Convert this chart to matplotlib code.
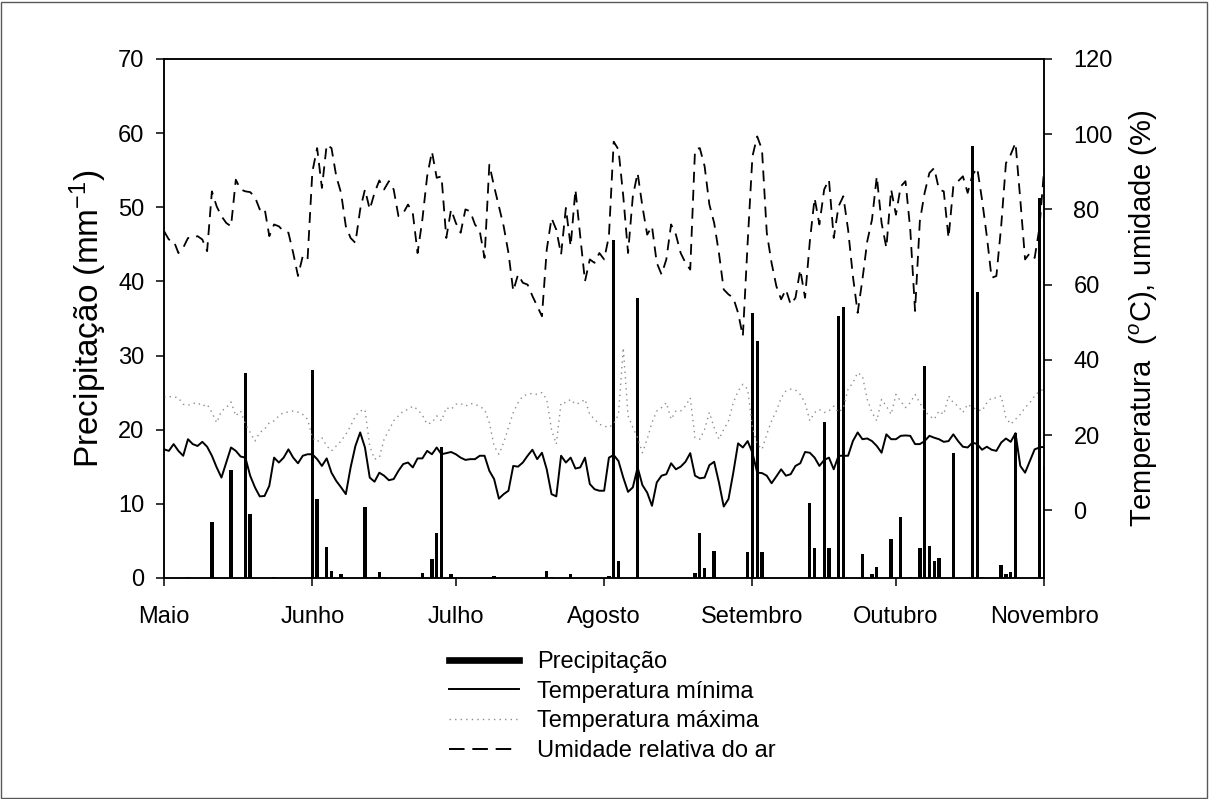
import matplotlib
matplotlib.use("Agg")
import matplotlib.pyplot as plt
from matplotlib.lines import Line2D
from matplotlib.patches import Rectangle

plt.rcParams['font.family'] = ['Liberation Sans', 'DejaVu Sans']
plt.rcParams['mathtext.fontset'] = 'custom'
plt.rcParams['mathtext.rm'] = 'Liberation Sans'
plt.rcParams['mathtext.it'] = 'Liberation Sans:italic'

# days counted from 1 May (0) to 1 Nov (184)
month_days = [0, 31, 61, 92, 123, 153, 184]
month_names = ['Maio', 'Junho', 'Julho', 'Agosto', 'Setembro', 'Outubro', 'Novembro']

humidity = [74.2, 72.0, 71.7, 68.4, 69.8, 72.4, 72.4, 72.9, 72.0, 68.9,
            84.8, 80.8, 78.2, 76.4, 75.5, 87.9, 85.3, 84.8, 84.6, 83.3,
            80.0, 80.4, 72.9, 76.0, 75.5, 74.2, 73.8, 68.4, 62.3, 67.6,
            66.7, 90.0, 96.3, 85.7, 97.2, 96.3, 88.8, 84.4, 75.5, 72.4,
            71.1, 80.0, 85.3, 80.0, 84.4, 87.7, 85.3, 87.5, 85.3, 78.2,
            79.0, 81.3, 79.0, 68.4, 77.3, 88.8, 95.4, 88.4, 88.8, 72.4,
            80.0, 76.4, 73.8, 80.0, 79.5, 76.0, 74.2, 67.1, 91.9, 86.1,
            80.8, 75.5, 68.4, 58.3, 62.7, 60.5, 60.0, 57.0, 54.3, 51.6,
            69.3, 77.7, 74.6, 68.0, 80.4, 70.2, 85.3, 72.9, 60.9, 66.7,
            65.8, 68.4, 66.7, 72.9, 98.0, 95.9, 83.5, 68.4, 83.5, 89.7,
            80.8, 73.3, 75.5, 65.8, 62.7, 66.7, 76.0, 73.3, 68.4, 65.8,
            64.0, 95.9, 96.3, 91.5, 81.3, 76.4, 68.4, 58.7, 57.4, 56.5,
            52.5, 46.3, 71.1, 94.1, 99.4, 95.9, 73.8, 65.8, 59.6, 56.1,
            58.7, 54.7, 56.5, 64.0, 56.5, 71.5, 83.0, 76.0, 85.3, 87.9,
            72.4, 80.8, 83.5, 74.6, 62.3, 52.5, 61.4, 71.5, 77.3, 88.8,
            76.4, 69.8, 85.3, 78.6, 86.1, 87.5, 74.6, 53.0, 76.9, 84.4,
            89.7, 91.0, 85.3, 84.8, 72.4, 86.1, 87.5, 88.8, 84.4, 89.2,
            91.0, 82.6, 72.9, 61.8, 62.3, 75.5, 92.3, 94.6, 97.7, 82.6,
            66.7, 68.4, 67.1, 75.1, 91.0]

temp_min = [16.2, 15.8, 17.6, 15.8, 14.5, 18.9, 17.6, 17.1, 18.2, 16.9,
            14.5, 11.4, 8.7, 12.7, 16.7, 15.8, 14.3, 14.0, 9.2, 6.1,
            3.7, 3.8, 6.5, 14.0, 12.7, 14.0, 16.2, 14.0, 12.5, 14.5,
            14.9, 14.9, 13.6, 11.8, 13.8, 10.0, 7.8, 6.1, 4.3, 11.4,
            17.1, 20.7, 16.7, 8.7, 7.6, 10.0, 9.2, 8.0, 8.3, 10.5,
            12.3, 12.7, 11.4, 13.8, 13.8, 15.8, 14.9, 16.7, 14.9, 15.2,
            15.5, 14.9, 14.0, 13.4, 13.6, 13.6, 14.5, 14.5, 10.5, 8.3,
            3.1, 4.3, 5.2, 11.8, 11.6, 12.7, 14.5, 16.1, 13.6, 15.3,
            10.9, 4.3, 3.7, 14.5, 12.7, 14.0, 11.1, 11.4, 14.0, 7.0,
            5.6, 5.2, 5.2, 14.0, 14.7, 13.1, 8.7, 4.9, 6.1, 11.4,
            6.7, 4.7, 1.2, 7.4, 9.2, 9.6, 12.5, 10.9, 11.6, 12.9,
            15.2, 9.2, 8.5, 8.7, 12.0, 12.9, 7.4, 1.0, 3.0, 10.0,
            17.8, 16.7, 18.4, 15.3, 10.0, 9.9, 9.2, 7.2, 9.0, 10.9,
            9.2, 9.6, 11.8, 12.5, 15.5, 15.3, 14.0, 11.8, 13.4, 14.0,
            10.9, 14.5, 14.5, 14.5, 18.4, 20.7, 18.9, 19.1, 18.4, 17.1,
            15.3, 20.2, 18.9, 18.9, 19.8, 19.9, 19.8, 17.6, 17.6, 18.4,
            19.8, 19.3, 18.9, 18.2, 18.4, 20.2, 18.4, 16.9, 16.7, 18.0,
            17.6, 16.1, 16.9, 16.1, 15.8, 18.0, 19.1, 18.2, 20.5, 11.8,
            10.0, 13.1, 16.2, 16.7, 16.9]

temp_max = [30.2, 30.2, 30.2, 29.9, 28.2, 27.9, 28.4, 28.6, 27.7, 28.2,
            26.0, 23.3, 26.4, 27.3, 28.8, 25.1, 26.4, 22.9, 20.7, 18.4,
            20.7, 21.5, 23.3, 23.8, 25.1, 26.0, 26.1, 26.4, 26.1, 25.5,
            24.2, 19.3, 18.2, 19.3, 17.1, 15.8, 17.1, 18.4, 20.2, 22.4,
            25.1, 26.4, 26.8, 17.1, 13.6, 14.0, 18.9, 21.3, 23.8, 25.1,
            26.4, 26.8, 27.7, 26.8, 25.3, 22.9, 23.3, 25.1, 23.8, 27.3,
            26.8, 28.2, 28.4, 27.7, 28.4, 28.2, 27.6, 26.8, 23.3, 17.1,
            14.9, 18.0, 22.0, 26.0, 28.6, 30.4, 30.8, 31.1, 30.8, 31.3,
            29.5, 21.5, 17.6, 28.6, 28.6, 29.5, 28.2, 28.6, 29.5, 25.5,
            24.2, 22.9, 22.4, 22.0, 23.0, 25.5, 43.2, 25.1, 22.0, 19.3,
            15.3, 18.9, 23.3, 26.4, 27.3, 28.6, 24.2, 26.4, 26.4, 27.7,
            29.9, 19.3, 18.9, 21.5, 26.0, 22.0, 18.9, 21.5, 23.8, 28.6,
            31.7, 33.5, 32.2, 22.0, 17.6, 16.2, 20.2, 23.8, 26.4, 29.9,
            31.7, 32.2, 32.0, 30.8, 28.6, 23.8, 26.0, 26.8, 26.0, 26.4,
            27.7, 26.0, 27.3, 32.2, 33.9, 36.6, 35.7, 29.5, 26.0, 23.8,
            29.5, 27.7, 25.5, 30.8, 29.0, 27.3, 28.6, 30.8, 28.6, 26.4,
            25.1, 24.2, 26.4, 25.5, 30.4, 28.6, 27.7, 26.0, 28.2, 27.3,
            26.8, 26.4, 28.6, 29.9, 29.9, 30.4, 24.6, 22.9, 24.2, 25.5,
            27.3, 28.6, 30.4, 31.7, 32.2]

rain_days = [5, 10, 14, 17, 18, 23, 31, 32, 34, 35, 37, 42, 44, 45, 46,
             54, 56, 57, 58, 60, 69, 80, 81, 85, 93, 94, 95, 99, 111, 112,
             113, 114, 115, 122, 123, 124, 125, 135, 136, 138, 139, 141, 142,
             146, 148, 149, 152, 154, 156, 158, 159, 160, 161, 162, 165, 169,
             170, 171, 175, 176, 177, 178, 183, 184]
rain_mm = [0.2, 7.6, 14.5, 27.6, 8.6, 0.2, 28.0, 10.6, 4.2, 1.0, 0.5, 9.6, 0.2, 0.8, 0.2,
           0.7, 2.5, 6.1, 17.7, 0.5, 0.3, 1.0, 0.1, 0.6, 0.3, 45.6, 2.3, 37.7, 0.7, 6.1,
           1.4, 0.2, 3.7, 3.5, 35.8, 32.0, 3.5, 10.1, 4.1, 21.1, 4.1, 35.3, 36.5,
           3.3, 0.5, 1.5, 5.3, 8.2, 0.1, 4.0, 28.6, 4.3, 2.3, 2.7, 16.9, 58.2,
           38.6, 0.1, 1.7, 0.6, 0.8, 19.6, 51.2, 15.1]

days = list(range(len(humidity)))

fig = plt.figure(figsize=(12.09, 7.99), dpi=100)
ax = fig.add_axes([0.1357, 0.2766, 0.728, 0.6496])
ax2 = ax.twinx()

# precipitation bars (left axis)
ax.bar(rain_days, rain_mm, width=0.7, color='black', zorder=3)
ax.set_xlim(0, 184)
ax.set_ylim(0, 70)
ax.set_yticks(range(0, 71, 10))
ax.set_xticks(month_days)
ax.set_xticklabels(month_names)

# temperature / humidity (right axis)
ax2.plot(days, temp_min, color='black', lw=1.4)
ax2.plot(days, temp_max, color='0.55', lw=1.0, linestyle=(0, (1, 3)))
ax2.plot(days, humidity, color='black', lw=1.3, linestyle=(0, (6, 4)))
ax2.set_ylim(-18, 120)
ax2.set_yticks(range(0, 121, 20))

fs = 17
for a in (ax, ax2):
    for s in a.spines.values():
        s.set_linewidth(1.1)
    a.tick_params(direction='out', length=6, width=1.1, labelsize=fs)
ax.tick_params(axis='y', pad=8)
ax.tick_params(axis='x', pad=14)
ax2.tick_params(axis='y', pad=15)

ax.set_ylabel('Precipitação (mm$^{-1}$)', fontsize=24)
ax.yaxis.set_label_coords(-0.062, 0.5)
ax2.set_ylabel('Temperatura  ($^{o}$C), umidade (%)', fontsize=21, rotation=90)
ax2.yaxis.set_label_coords(1.095, 0.5)

handles = [Line2D([], [], color='black', lw=4.8),
           Line2D([], [], color='black', lw=1.4),
           Line2D([], [], color='0.55', lw=1.0, linestyle=(0, (1, 3))),
           Line2D([], [], color='black', lw=1.4, linestyle=(0, (8, 4)))]
labels = ['Precipitação', 'Temperatura mínima', 'Temperatura máxima', 'Umidade relativa do ar']
fig.legend(handles, labels, loc='upper left', bbox_to_anchor=(0.371, 0.185),
           frameon=False, fontsize=fs, handlelength=3.0, handletextpad=0.75,
           labelspacing=0.32, borderpad=0, borderaxespad=0)

fig.patches.append(Rectangle((0.001, 0.001), 0.997, 0.997, transform=fig.transFigure,
                             fill=False, edgecolor='0.35', lw=1))

fig.savefig('out.png', dpi=100)
